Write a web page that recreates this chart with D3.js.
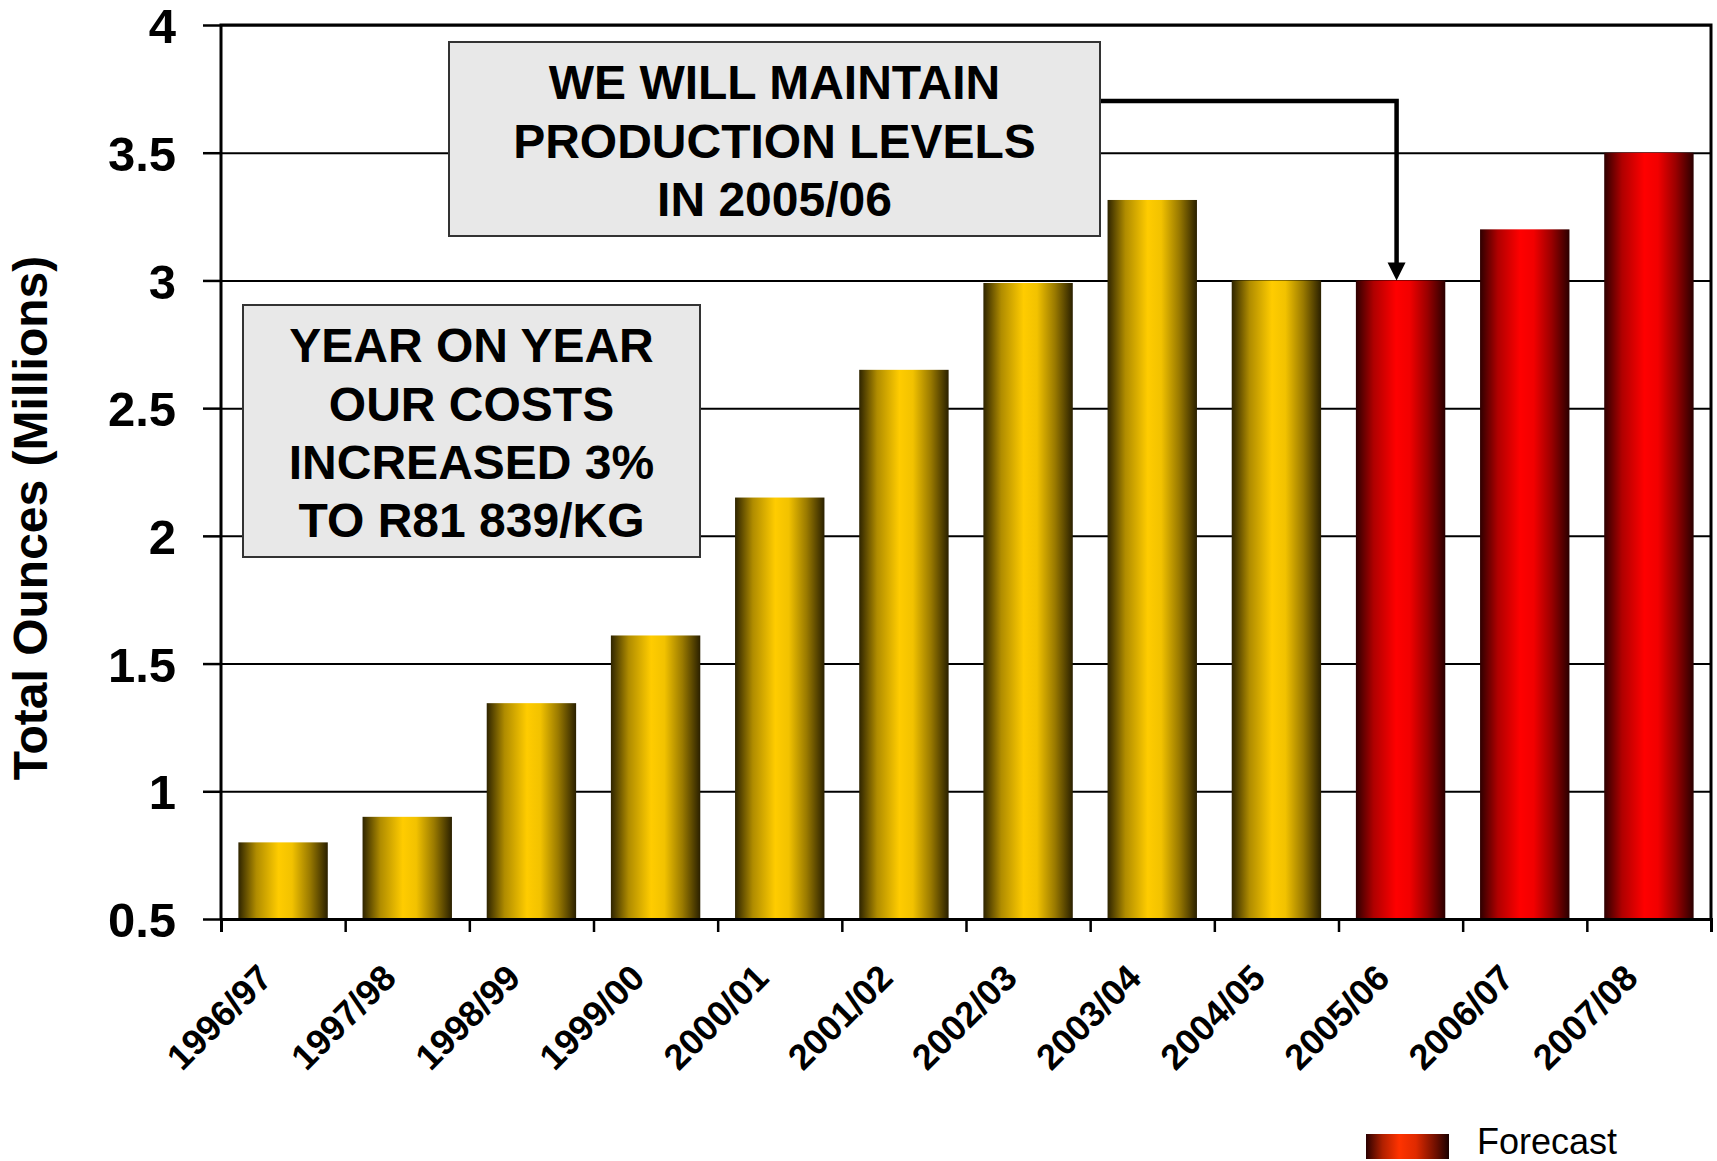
<!DOCTYPE html>
<html>
<head>
<meta charset="utf-8">
<script src="https://cdn.jsdelivr.net/npm/d3@7.9.0/dist/d3.min.js"></script>
<style>
  html, body { margin: 0; padding: 0; background: #fff; }
  svg { display: block; font-family: "Liberation Sans", Arial, sans-serif; }
</style>
</head>
<body>
<div id="chart"></div>
<script>
const categories = ["1996/97", "1997/98", "1998/99", "1999/00", "2000/01", "2001/02",
  "2002/03", "2003/04", "2004/05", "2005/06", "2006/07", "2007/08"];
const ounces = [0.80, 0.90, 1.345, 1.61, 2.15, 2.65, 2.99, 3.315, 3.0, 3.0, 3.2, 3.5];
const forecast = [false, false, false, false, false, false, false, false, false, true, true, true];
const yTicks = [0.5, 1, 1.5, 2, 2.5, 3, 3.5, 4];
const costNote = ["YEAR ON YEAR", "OUR COSTS", "INCREASED 3%", "TO R81 839/KG"];
const productionNote = ["WE WILL MAINTAIN", "PRODUCTION LEVELS", "IN 2005/06"];

const width = 1717;
const height = 1161;
const plot = { left: 221, right: 1711, top: 25, bottom: 919 };

const svg = d3.select("#chart")
  .append("svg")
  .attr("width", width)
  .attr("height", height);

const defs = svg.append("defs");

function addGradient(id, stops) {
  const g = defs.append("linearGradient")
    .attr("id", id)
    .attr("x1", "0%").attr("x2", "100%")
    .attr("y1", "0%").attr("y2", "0%");
  stops.forEach(([offset, color]) => {
    g.append("stop").attr("offset", offset).attr("stop-color", color);
  });
}

addGradient("gold", [[0, "#2e2400"], [0.2, "#b08c00"], [0.45, "#ffcc00"], [0.6, "#f2c200"], [0.8, "#9a7a00"], [1, "#2a2000"]]);
addGradient("red", [[0, "#2e0000"], [0.2, "#b00000"], [0.45, "#ff0000"], [0.6, "#f20000"], [0.8, "#9a0000"], [1, "#2a0000"]]);
addGradient("legendRed", [[0, "#2a0000"], [0.2, "#b02000"], [0.4, "#ff3300"], [0.6, "#e02a00"], [0.85, "#6a0e00"], [1, "#1a0000"]]);

const x = d3.scaleBand()
  .domain(categories)
  .range([plot.left, plot.right])
  .paddingInner(0.28)
  .paddingOuter(0.14);

const y = d3.scaleLinear()
  .domain([0.5, 4])
  .range([plot.bottom, plot.top]);

// gridlines
svg.append("g")
  .attr("transform", `translate(${plot.left},0)`)
  .call(d3.axisLeft(y).tickValues(yTicks).tickFormat("").tickSize(-(plot.right - plot.left)))
  .call((g) => g.select(".domain").remove())
  .call((g) => g.selectAll("line").attr("stroke", "#000").attr("stroke-width", 2));

// bars
svg.append("g")
  .selectAll("rect")
  .data(categories)
  .join("rect")
  .attr("x", (d) => x(d))
  .attr("width", x.bandwidth())
  .attr("y", (d, i) => y(ounces[i]))
  .attr("height", (d, i) => y(0.5) - y(ounces[i]))
  .attr("fill", (d, i) => forecast[i] ? "url(#red)" : "url(#gold)");

// frame: left, top, right
svg.append("path")
  .attr("d", `M${plot.left},${plot.bottom}V${plot.top}H${plot.right}V${plot.bottom}`)
  .attr("fill", "none")
  .attr("stroke", "#000")
  .attr("stroke-width", 3);

// y axis
svg.append("g")
  .attr("transform", `translate(${plot.left},0)`)
  .call(d3.axisLeft(y).tickValues(yTicks).tickFormat((d) => String(d)).tickSize(18).tickPadding(27))
  .call((g) => g.select(".domain").remove())
  .call((g) => g.selectAll("line").attr("stroke", "#000").attr("stroke-width", 2.5))
  .call((g) => g.selectAll("text")
    .attr("fill", "#000")
    .attr("font-family", "Liberation Sans, Arial, sans-serif")
    .attr("font-size", 49)
    .attr("font-weight", "bold")
    .attr("dy", "0.36em"));

// x axis: ticks at band edges
const edge = d3.scaleLinear().domain([0, categories.length]).range([plot.left, plot.right]);
svg.append("g")
  .attr("transform", `translate(0,${plot.bottom})`)
  .call(d3.axisBottom(edge).tickValues(d3.range(categories.length + 1)).tickFormat("").tickSize(13))
  .call((g) => g.select(".domain").attr("stroke", "#000").attr("stroke-width", 3))
  .call((g) => g.selectAll("line").attr("stroke", "#000").attr("stroke-width", 2.5));

// x labels
svg.append("g")
  .attr("transform", `translate(0,${plot.bottom})`)
  .call(d3.axisBottom(x).tickSize(0).tickPadding(0))
  .call((g) => g.select(".domain").remove())
  .call((g) => g.selectAll("text")
    .attr("fill", "#000")
    .attr("font-family", "Liberation Sans, Arial, sans-serif")
    .attr("font-size", 36)
    .attr("font-weight", "bold")
    .attr("text-anchor", "end")
    .attr("y", 0)
    .attr("dy", 0)
    .attr("transform", "translate(-9,61) rotate(-45)"));

// y title
svg.append("text")
  .attr("transform", "translate(47,518) rotate(-90)")
  .attr("text-anchor", "middle")
  .attr("font-size", 48)
  .attr("font-weight", "bold")
  .attr("fill", "#000")
  .text("Total Ounces (Millions)");

// arrow from note to 2005/06 bar
const arrowX = x("2005/06") + x.bandwidth() / 2 - 4;
const arrowTip = y(ounces[categories.indexOf("2005/06")]);
svg.append("path")
  .attr("d", `M1100,101H${arrowX}V${arrowTip - 16}`)
  .attr("fill", "none")
  .attr("stroke", "#000")
  .attr("stroke-width", 4.5);
svg.append("path")
  .attr("d", `M${arrowX - 9},${arrowTip - 18}L${arrowX + 9},${arrowTip - 18}L${arrowX},${arrowTip}Z`)
  .attr("fill", "#000");

// note boxes
function noteBox(x0, y0, w, h, lines, firstCenter) {
  const g = svg.append("g");
  g.append("rect")
    .attr("x", x0).attr("y", y0)
    .attr("width", w).attr("height", h)
    .attr("fill", "#e8e8e8")
    .attr("stroke", "#333")
    .attr("stroke-width", 2);
  g.selectAll("text")
    .data(lines)
    .join("text")
    .attr("x", x0 + w / 2)
    .attr("y", (d, i) => firstCenter + i * 58.3)
    .attr("dy", "0.36em")
    .attr("text-anchor", "middle")
    .attr("font-size", 48)
    .attr("font-weight", "bold")
    .attr("fill", "#000")
    .text((d) => d);
}

noteBox(449, 42, 651, 194, productionNote, 82);
noteBox(243, 305, 457, 252, costNote, 345);

// legend
svg.append("rect")
  .attr("x", 1366).attr("y", 1134)
  .attr("width", 83).attr("height", 25)
  .attr("fill", "url(#legendRed)");
svg.append("text")
  .attr("x", 1477).attr("y", 1154)
  .attr("font-size", 36)
  .attr("fill", "#000")
  .text("Forecast");
</script>
</body>
</html>
